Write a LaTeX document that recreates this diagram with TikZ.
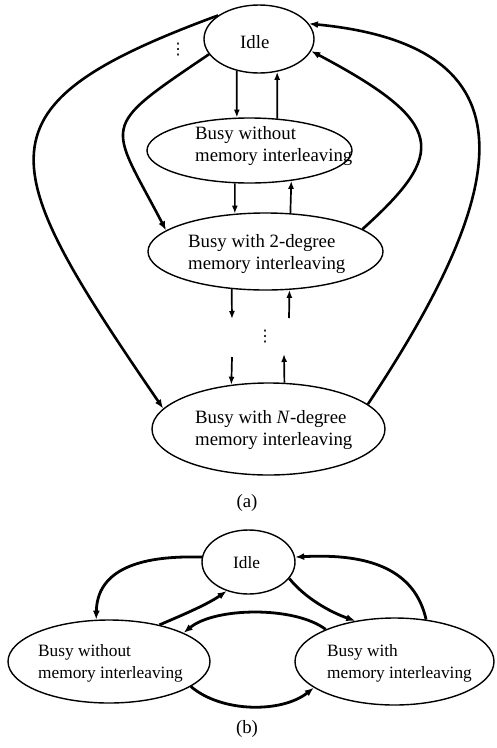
\documentclass[tikz,border=0pt]{standalone}
\usepackage{fontspec}
\setmainfont{Liberation Serif}
\newfontfamily\symfont{DejaVu Sans}
\usepackage{tikz}
\usetikzlibrary{positioning,arrows.meta,shapes.geometric}
\tikzset{
  st/.style={draw,ellipse,line width=1.4pt,inner sep=0pt},
  stlabel/.style={anchor=west,inner sep=0pt,align=left,
                  font=\fontsize{18.8}{22.5}\selectfont},
  stlabelb/.style={stlabel,font=\fontsize{17.3}{22.5}\selectfont},
  trans/.style={-{Latex[length=9pt,width=7pt]},line width=2.6pt},
  transb/.style={trans,line width=2.8pt},
  vtrans/.style={-{Latex[length=8pt,width=6pt]},line width=1.7pt},
  dotsnode/.style={inner sep=0pt,font=\symfont\fontsize{16}{16}\selectfont},
  subcap/.style={inner sep=0pt,font=\fontsize{18.8}{22}\selectfont},
}
\begin{document}
\begin{tikzpicture}[x=1pt,y=-1pt]
  \useasboundingbox (0,0) rectangle (496,748);
  % (a)
  \node[st,minimum width=110pt,minimum height=68pt] (idleA) at (259,39) {};
  \node[st,minimum width=205pt,minimum height=65pt] (bwoA) at (249.5,150.5) {};
  \node[st,minimum width=235pt,minimum height=77pt] (b2A) at (265.5,251.5) {};
  \node[st,minimum width=233pt,minimum height=92pt] (bNA) at (268.5,429) {};
  \node[stlabel] (idleAt) at (240,42) {Idle};
  \node[stlabel] (bwoAt) at (195,146) {Busy without\\memory interleaving};
  \node[stlabel] (b2At) at (188,254) {Busy with 2-degree\\memory interleaving};
  \node[stlabel] (bNAt) at (195,430) {Busy with \textit{N}-degree\\memory interleaving};
  \node[dotsnode] (dotsA) at (178,50) {⋮};
  \node[dotsnode] (dotsB) at (265,337) {⋮};
  \coordinate (m1) at (232,319);
  \coordinate (m2) at (289,318);
  \coordinate (m3) at (232,357);
  \coordinate (m4) at (284,354);
  \draw[vtrans] (idleA.235) -- (bwoA.111);
  \draw[vtrans] (bwoA.49) -- (idleA.299);
  \draw[vtrans] (bwoA.246) -- (b2A.129);
  \draw[vtrans] (b2A.57) -- (bwoA.324);
  \draw[vtrans] (b2A.228) -- (m1);
  \draw[vtrans] (m2) -- (b2A.302);
  \draw[vtrans] (m3) -- (bNA.130);
  \draw[vtrans] (bNA.71) -- (m4);
  \draw[trans] (idleA.150) .. controls (-28,106) and (-7,160) .. (bNA.169);
  \draw[trans] (idleA.197) .. controls (97,130) and (109,121) .. (b2A.168);
  \draw[trans] (b2A.13) .. controls (447,153) and (447,123) .. (idleA.347);
  \draw[trans] (bNA.14) .. controls (500,205) and (550,47) .. (idleA.17);
  \node[subcap] (capA) at (247,503) {(a)};
  % (b)
  \node[st,minimum width=93pt,minimum height=64pt] (idleB) at (248.5,562) {};
  \node[st,minimum width=202pt,minimum height=83pt] (bwoB) at (109,661.5) {};
  \node[st,minimum width=199pt,minimum height=87pt] (bwiB) at (394.5,661.5) {};
  \node[stlabelb] (idleBt) at (233,563) {Idle};
  \node[stlabelb] (bwoBt) at (38,663.5) {Busy without\\memory interleaving};
  \node[stlabelb] (bwiBt) at (327,663.5) {Busy with\\memory interleaving};
  \draw[transb] (idleB.174) .. controls (135,555) and (97,572) .. (bwoB.107);
  \draw[transb] (bwoB.36) .. controls (185,614) and (208,604) .. (idleB.233);
  \draw[transb] (idleB.338) .. controls (305,598) and (330,612) .. (bwiB.134);
  \draw[transb] (bwiB.53) .. controls (415,570) and (370,553) .. (idleB.6);
  \draw[transb] (bwiB.155) .. controls (295,606) and (215,607) .. (bwoB.21);
  \draw[transb] (bwoB.343) .. controls (222,713) and (282,713) .. (bwiB.198);
  \node[subcap] (capB) at (247,729) {(b)};
\end{tikzpicture}
\end{document}
